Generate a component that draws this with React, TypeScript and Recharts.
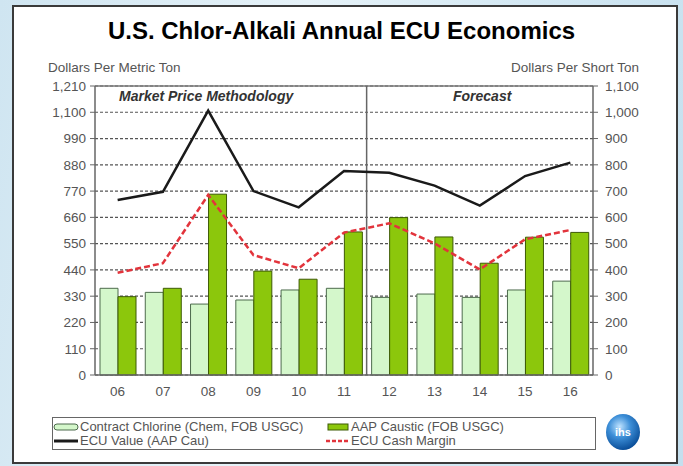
import { Bar, CartesianGrid, ComposedChart, Legend, Line, ReferenceLine, XAxis, YAxis } from "recharts"

const years = ["06", "07", "08", "09", "10", "11", "12", "13", "14", "15", "16"]
const contractChlorine = [363, 346, 297, 314, 356, 363, 325, 339, 325, 356, 393]
const aapCaustic = [328, 363, 757, 435, 401, 599, 659, 578, 468, 577, 597]
const ecuValue = [733, 767, 1107, 770, 702, 854, 847, 793, 709, 833, 889]
const ecuCashMargin = [428, 468, 754, 502, 447, 596, 635, 551, 442, 568, 607]

const metricTicks = [0, 110, 220, 330, 440, 550, 660, 770, 880, 990, 1100, 1210]
const shortTicks = [0, 100, 200, 300, 400, 500, 600, 700, 800, 900, 1000, 1100]

const FONT = "'Liberation Sans', Arial, sans-serif"
const LIGHT = "#d4f7cb"
const LIGHT_EDGE = "#4d6b4d"
const DARK = "#8cc70c"
const DARK_EDGE = "#3d5a05"
const RED = "#e2343c"

const chartData = years.map((year, i) => ({
  year,
  chlorine: contractChlorine[i],
  caustic: aapCaustic[i],
  ecu: ecuValue[i],
  margin: ecuCashMargin[i],
}))

const fmt = (v: number) => v.toLocaleString("en-US")

const legendText = { fontSize: 13, lineHeight: "14px", color: "#555", fontFamily: FONT, whiteSpace: "nowrap" as const }

function ChartLegend() {
  const row = (top: number) => ({ position: "absolute" as const, top, height: 14, display: "flex", alignItems: "center" })
  return (
    <div style={{ position: "relative", width: 544, height: 33, border: "1.5px solid #666", boxSizing: "border-box", background: "#fff" }}>
      <div style={{ ...row(2), left: 0 }}>
        <svg width={27} height={10}>
          <rect x={1} y={2} width={24} height={6} rx={3} fill={LIGHT} stroke={LIGHT_EDGE} strokeWidth={1} />
        </svg>
        <span style={legendText}>Contract Chlorine (Chem, FOB USGC)</span>
      </div>
      <div style={{ ...row(2), left: 274 }}>
        <svg width={24} height={10}>
          <rect x={1} y={2} width={20} height={6} fill={DARK} stroke={DARK_EDGE} strokeWidth={1} />
        </svg>
        <span style={legendText}>AAP Caustic (FOB USGC)</span>
      </div>
      <div style={{ ...row(16), left: 0 }}>
        <svg width={27} height={10}>
          <line x1={1} y1={5} x2={25} y2={5} stroke="#1a1a1a" strokeWidth={3} />
        </svg>
        <span style={legendText}>ECU Value (AAP Cau)</span>
      </div>
      <div style={{ ...row(16), left: 272 }}>
        <svg width={26} height={10}>
          <line x1={1} y1={5} x2={25} y2={5} stroke={RED} strokeWidth={2.5} strokeDasharray="4 2" />
        </svg>
        <span style={legendText}>ECU Cash Margin</span>
      </div>
    </div>
  )
}

export default function App() {
  return (
    <div
      style={{
        position: "absolute",
        left: 0,
        top: 0,
        width: 683,
        height: 466,
        overflow: "hidden",
        background: "linear-gradient(100deg, #cfe5f1 0%, #e6f2f8 40%, #d3e8f3 70%, #c4dfee 100%)",
        fontFamily: FONT,
      }}
    >
      <div
        style={{
          position: "absolute",
          left: 12,
          top: 5,
          width: 666,
          height: 459,
          background: "#fff",
          border: "2px solid #3a3a3a",
          boxSizing: "border-box",
        }}
      />
      <div style={{ position: "absolute", left: 0, top: 0 }}>
        <ComposedChart
          width={683}
          height={466}
          data={chartData}
          margin={{ top: 86, right: 45, bottom: 61, left: 53 }}
          barSize={18}
          barGap={0}
        >
          <CartesianGrid vertical={false} stroke="#555" strokeDasharray="3 2" strokeWidth={1.2} yAxisId="left" />
          <XAxis
            dataKey="year"
            height={30}
            tickLine={false}
            tickMargin={5}
            axisLine={{ stroke: "#666", strokeWidth: 1.5 }}
            tick={{ fill: "#555", fontSize: 13.5, fontFamily: FONT }}
          />
          <YAxis
            yAxisId="left"
            width={42}
            domain={[0, 1210]}
            ticks={metricTicks}
            tickFormatter={fmt}
            tickSize={5}
            tickMargin={4}
            axisLine={{ stroke: "#666", strokeWidth: 1.5 }}
            tickLine={{ stroke: "#666" }}
            tick={{ fill: "#555", fontSize: 13.5, fontFamily: FONT }}
          />
          <YAxis
            yAxisId="right"
            orientation="right"
            type="number"
            width={45}
            domain={[0, 1100]}
            allowDataOverflow
            ticks={shortTicks}
            tickFormatter={fmt}
            tickSize={5}
            tickMargin={7}
            axisLine={{ stroke: "#666", strokeWidth: 1.5 }}
            tickLine={{ stroke: "#666" }}
            tick={{ fill: "#555", fontSize: 13.5, fontFamily: FONT }}
          />
          <ReferenceLine yAxisId="left" y={1210} stroke="#777" strokeWidth={1.5} />
          <ReferenceLine yAxisId="left" x="12" position="start" stroke="#666" strokeWidth={1.5} />
          <Bar
            yAxisId="left"
            dataKey="chlorine"
            name="Contract Chlorine (Chem, FOB USGC)"
            fill={LIGHT}
            stroke={LIGHT_EDGE}
            strokeWidth={1}
            isAnimationActive={false}
          />
          <Bar
            yAxisId="left"
            dataKey="caustic"
            name="AAP Caustic (FOB USGC)"
            fill={DARK}
            stroke={DARK_EDGE}
            strokeWidth={1}
            isAnimationActive={false}
          />
          <Line
            yAxisId="left"
            type="linear"
            dataKey="ecu"
            name="ECU Value (AAP Cau)"
            stroke="#1a1a1a"
            strokeWidth={2.5}
            dot={false}
            isAnimationActive={false}
          />
          <Line
            yAxisId="left"
            type="linear"
            dataKey="margin"
            name="ECU Cash Margin"
            stroke={RED}
            strokeWidth={2.5}
            strokeDasharray="6 3"
            dot={false}
            isAnimationActive={false}
          />
          <Legend
            verticalAlign="middle"
            align="center"
            layout="horizontal"
            content={() => <ChartLegend />}
            wrapperStyle={{ position: "absolute", left: 52, top: 417, width: 544, height: 33 }}
          />
        </ComposedChart>
      </div>

      <div style={{ position: "absolute", left: 0, width: 683, top: 17, textAlign: "center", fontSize: 24, fontWeight: "bold", color: "#000" }}>
        U.S. Chlor-Alkali Annual ECU Economics
      </div>
      <div style={{ position: "absolute", left: 48, top: 60, fontSize: 13.5, color: "#555" }}>Dollars Per Metric Ton</div>
      <div style={{ position: "absolute", right: 683 - 639, top: 60, fontSize: 13.5, color: "#555" }}>Dollars Per Short Ton</div>
      <div style={{ position: "absolute", left: 119, top: 88, fontSize: 14, fontWeight: "bold", fontStyle: "italic", color: "#333" }}>
        Market Price Methodology
      </div>
      <div style={{ position: "absolute", left: 453, top: 88, fontSize: 14, fontWeight: "bold", fontStyle: "italic", color: "#333" }}>
        Forecast
      </div>
      <div
        style={{
          position: "absolute",
          left: 606,
          top: 414,
          width: 34,
          height: 36,
          borderRadius: "50%",
          background: "radial-gradient(circle at 40% 35%, #bfe3ff 0%, #3d8fd8 35%, #0b4f9a 75%, #062f66 100%)",
          color: "#fff",
          fontSize: 11,
          fontWeight: "bold",
          display: "flex",
          alignItems: "center",
          justifyContent: "center",
        }}
      >
        ihs
      </div>
    </div>
  )
}
